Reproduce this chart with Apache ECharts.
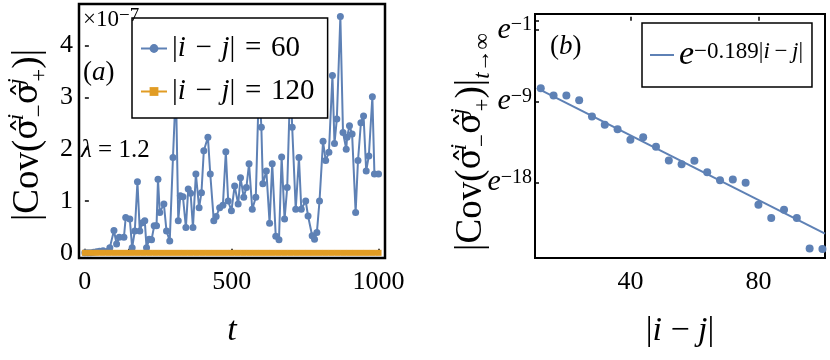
<!DOCTYPE html>
<html><head><meta charset="utf-8">
<script src="https://cdn.jsdelivr.net/npm/echarts@6/dist/echarts.min.js"></script>
<style>html,body{margin:0;padding:0;background:#fff}#c{width:830px;height:360px}</style>
</head><body><div id="c"></div>
<script>
// ---- Panel (a): |Cov| (x1e-7) vs t ----
const t60 = [0,10,20,30,40,50,62,85,99,108,117,133,139,153,161,170,179,187,196,204,210,219,227,236,244,249,255,269,278,289,300,310,318,325,334,344,352,360,368,378,389,397,405,419,427,439,447,459,470,480,488,499,510,522,530,541,550,559,570,582,593,601,606,618,629,638,650,661,670,680,689,700,706,718,729,737,752,760,774,782,790,799,811,820,831,843,850,858,870,879,890,893,901,910,922,930,940,949,958,967,979,986,1000];
const cov60 = [0.0,0.0,0.0,0.01,0.02,0.03,0.04,0.1,0.43,0.17,0.3,0.3,0.68,0.65,0.1,0.42,1.37,0.42,0.58,0.62,0.1,0.26,0.25,0.52,0.52,1.42,0.78,0.94,0.42,0.23,1.84,3.2,0.62,1.1,1.08,0.49,1.23,1.15,0.49,1.52,0.87,1.16,1.97,2.23,1.52,0.62,0.7,0.87,0.92,1.95,1.0,0.81,1.29,0.94,1.45,1.07,1.26,1.72,0.84,1.07,3.3,2.42,1.33,1.58,0.57,1.72,0.32,0.25,1.85,0.65,1.26,3.4,2.42,0.84,1.84,0.84,1.0,0.71,0.33,0.26,0.39,1.0,2.15,1.78,1.94,3.42,2.11,2.58,4.56,2.32,2.0,2.23,2.45,2.29,0.78,1.78,2.51,2.64,1.58,1.87,3.01,1.52,1.52];
const t120 = [0,20,40,60,80,100,120,140,160,180,200,220,240,260,280,300,320,340,360,380,400,420,440,460,480,500,520,540,560,580,600,620,640,660,680,700,720,740,760,780,800,820,840,860,880,900,920,940,960,980,1000];
const cov120 = [0,0,0,0,0,0,0,0,0,0,0,0,0,0,0,0,0,0,0,0,0,0,0,0,0,0,0,0,0,0,0,0,0,0,0,0,0,0,0,0,0,0,0,0,0,0,0,0,0,0,0];
const leftXTicks = [0,60,150,500,1000];
const leftXLabels = [0,500,1000];
const leftYTicks = [0,1,2,3,4];

// ---- Panel (b): ln|Cov| at t->inf vs |i-j| ----
const sep = [12,16,20,24,28,32,36,40,44,48,52,56,60,64,68,72,76,80,84,88,92,96,100];
const lnCovInf = [-7.51,-8.33,-8.33,-8.84,-10.67,-11.59,-12.07,-13.26,-12.96,-14.03,-15.55,-15.96,-15.59,-16.85,-17.74,-17.67,-18.03,-20.48,-21.96,-21.03,-21.96,-25.33,-25.4];
const fitX = [10.8, 100.8];
const fitLn = [-7.5, -23.7];
const rightXTicks = [40,80];
const rightYTicks = [0,-1,-9,-18];
const rightYLabels = [-1,-9,-18];

const BLUE = '#5E81B5', ORANGE = '#E19C24';
const FF = 'Liberation Serif';
const SIG = 'DejaVu Serif';
const zip = (a,b) => a.map((v,i)=>[v,b[i]]);
const S = '\u2004', TS = '\u2009';
const name60 = '|i − j| = 60', name120 = '|i − j| = 120', nameFit = 'fit';

const chart = echarts.init(document.getElementById('c'), null, {renderer:'canvas'});
const supLabel = v => '{e|e}{s|' + (v<0?'−':'') + Math.abs(v) + '}';

const covRich = {
  n:{fontFamily:FF,fontSize:37,lineHeight:46,fill:'#000'},
  g:{fontFamily:SIG,fontSize:33,lineHeight:46,fill:'#000'},
  sp:{fontFamily:FF,fontSize:23,fontStyle:'italic',lineHeight:23,verticalAlign:'top',width:0},
  sb:{fontFamily:FF,fontSize:23,lineHeight:23,verticalAlign:'bottom'},
  sb2:{fontFamily:FF,fontSize:23,lineHeight:23,verticalAlign:'bottom'},
  sbi:{fontFamily:FF,fontSize:23,fontStyle:'italic',lineHeight:23,verticalAlign:'bottom'}
};
const covText = '{n||Cov(}{g|σ̂}{sp|i}{sb|−}{g|σ̂}{sp|j}{sb|+}{n|)|}';

chart.setOption({
  animation:false,
  backgroundColor:'#fff',
  grid:[
    {left:79,top:4,width:306,height:254,show:true,borderColor:'#000',borderWidth:2.5,backgroundColor:'transparent'},
    {left:535,top:14,width:290,height:244,show:true,borderColor:'#000',borderWidth:2,backgroundColor:'transparent'}
  ],
  xAxis:[
    {type:'value',gridIndex:0,min:-20,max:1022,splitLine:{show:false},axisLine:{show:false},
     axisTick:{inside:true,length:4,lineStyle:{color:'#000',width:1.5},customValues:leftXTicks},
     axisLabel:{customValues:leftXLabels,formatter:v=>String(v),fontFamily:FF,fontSize:26,color:'#000',margin:11}},
    {type:'value',gridIndex:1,min:10.2,max:100.8,splitLine:{show:false},axisLine:{show:false},
     axisTick:{inside:true,length:4,lineStyle:{color:'#000',width:1.5},customValues:rightXTicks},
     axisLabel:{customValues:rightXTicks,formatter:v=>String(v),fontFamily:FF,fontSize:26,color:'#000',margin:11}}
  ],
  yAxis:[
    {type:'value',gridIndex:0,min:-0.1,max:4.8,splitLine:{show:false},axisLine:{show:false},
     axisTick:{inside:true,length:4,lineStyle:{color:'#000',width:1.5},customValues:leftYTicks},
     axisLabel:{customValues:leftYTicks,formatter:v=>String(v),fontFamily:FF,fontSize:26,color:'#000',margin:6}},
    {type:'value',gridIndex:1,min:-26.4,max:0.74,splitLine:{show:false},axisLine:{show:false},
     axisTick:{inside:true,length:4,lineStyle:{color:'#000',width:1.5},customValues:rightYTicks},
     axisLabel:{customValues:rightYLabels,formatter:supLabel,color:'#000',margin:3,
       rich:{e:{fontFamily:FF,fontSize:30,fontStyle:'italic',lineHeight:30},s:{fontFamily:FF,fontSize:20,lineHeight:20,verticalAlign:'top'}}}}
  ],
  legend:[
    {data:[name60,name120],orient:'vertical',left:132,top:18,padding:[16,13,12,8],itemGap:14,
     itemWidth:26,itemHeight:11,backgroundColor:'#fff',borderColor:'#000',borderWidth:1.5,selectedMode:false,
     textStyle:{fontFamily:FF,fontSize:29,color:'#000',lineHeight:27,
       rich:{n:{fontFamily:FF,fontSize:29,lineHeight:27},it:{fontFamily:FF,fontSize:29,fontStyle:'italic',lineHeight:27}}},
     formatter:n => '{n||}{it|i}{n|'+S+'−'+S+'}{it|j}{n||'+S+'='+S + n.split('= ')[1] + '}'},
    {data:[{name:nameFit,icon:'rect'}],orient:'vertical',left:642,top:23,padding:[15,9,15,8],itemWidth:24,itemHeight:2,
     backgroundColor:'#fff',borderColor:'#000',borderWidth:1.5,selectedMode:false,
     textStyle:{fontFamily:FF,fontSize:30,color:'#000',lineHeight:30,
       rich:{e:{fontFamily:FF,fontSize:34,fontStyle:'italic',lineHeight:30},
             s:{fontFamily:FF,fontSize:23,lineHeight:21,verticalAlign:'top'},
             si:{fontFamily:FF,fontSize:23,fontStyle:'italic',lineHeight:21,verticalAlign:'top'}}},
     formatter:() => '{e|e}{s|−0.189|}{si|i}{s|'+TS+'−'+TS+'}{si|j}{s||}'}
  ],
  series:[
    {type:'line',name:name60,xAxisIndex:0,yAxisIndex:0,data:zip(t60,cov60),symbol:'circle',symbolSize:7,
     lineStyle:{color:BLUE,width:2},itemStyle:{color:BLUE},z:2},
    {type:'line',name:name120,xAxisIndex:0,yAxisIndex:0,data:zip(t120,cov120),symbol:'rect',symbolSize:6,
     lineStyle:{color:ORANGE,width:5},itemStyle:{color:ORANGE},z:3},
    {type:'scatter',name:'data',xAxisIndex:1,yAxisIndex:1,data:zip(sep,lnCovInf),symbolSize:8,itemStyle:{color:BLUE,opacity:1}},
    {type:'line',name:nameFit,xAxisIndex:1,yAxisIndex:1,data:zip(fitX,fitLn),symbol:'none',
     lineStyle:{color:BLUE,width:2},itemStyle:{color:BLUE}}
  ],
  graphic:[
    {type:'text',x:28,y:135,rotation:Math.PI/2,z:10,style:{text:covText,
      align:'center',verticalAlign:'middle',fill:'#000',rich:covRich}},
    {type:'text',x:471,y:142,rotation:Math.PI/2,z:10,style:{text:covText+'{sbi|t}{sb2|→∞}',
      align:'center',verticalAlign:'middle',fill:'#000',rich:covRich}},
    {type:'text',x:232,y:331,z:10,style:{text:'t',font:'italic 34px "Liberation Serif"',align:'center',verticalAlign:'middle',fill:'#000'}},
    {type:'text',x:680,y:331,z:10,style:{text:'{n||}{it|i}{n| − }{it|j}{n||}',align:'center',verticalAlign:'middle',fill:'#000',
      rich:{n:{fontFamily:FF,fontSize:34},it:{fontFamily:FF,fontSize:34,fontStyle:'italic'}}}},
    {type:'text',x:83,y:20,z:10,style:{text:'{n|×10}{s|−7}',align:'left',verticalAlign:'middle',fill:'#000',
      rich:{n:{fontFamily:FF,fontSize:23,lineHeight:26},s:{fontFamily:FF,fontSize:19,lineHeight:17,verticalAlign:'top'}}}},
    {type:'text',x:83,y:73,z:10,style:{text:'{n|(}{it|a}{n|)}',align:'left',verticalAlign:'middle',fill:'#000',
      rich:{n:{fontFamily:FF,fontSize:27},it:{fontFamily:FF,fontSize:27,fontStyle:'italic'}}}},
    {type:'text',x:81,y:150,z:10,style:{text:'{it|λ}{n| = 1.2}',align:'left',verticalAlign:'middle',fill:'#000',
      rich:{n:{fontFamily:FF,fontSize:25},it:{fontFamily:FF,fontSize:25,fontStyle:'italic'}}}},
    {type:'text',x:550,y:47,z:10,style:{text:'{n|(}{it|b}{n|)}',align:'left',verticalAlign:'middle',fill:'#000',
      rich:{n:{fontFamily:FF,fontSize:27},it:{fontFamily:FF,fontSize:27,fontStyle:'italic'}}}}
  ]
});
</script></body></html>
